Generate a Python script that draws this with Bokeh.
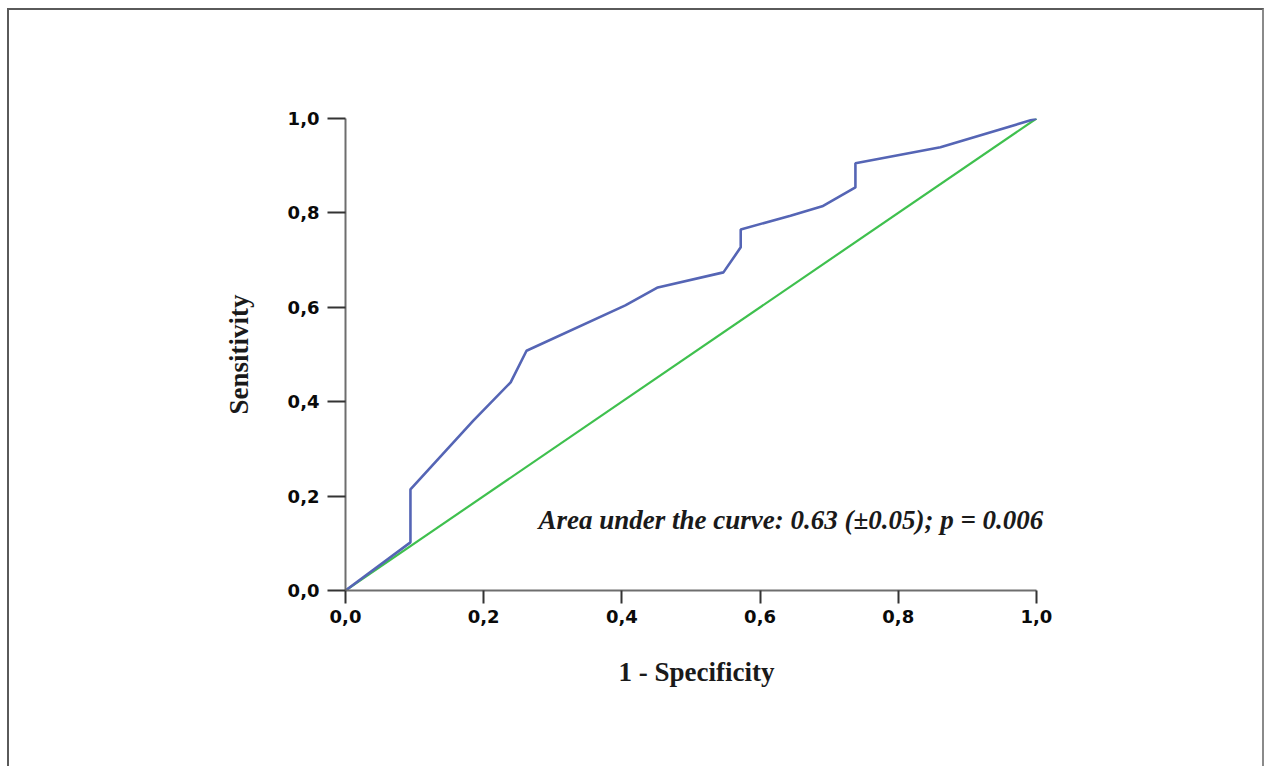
from bokeh.plotting import figure
from bokeh.models import FixedTicker, Label
from bokeh.embed import file_html
from bokeh.resources import INLINE

# ROC curve
fpr = [0.0, 0.094, 0.094, 0.185, 0.239, 0.262, 0.405, 0.452, 0.547, 0.572, 0.572,
       0.644, 0.690, 0.738, 0.738, 0.813, 0.861, 1.0]
tpr = [0.0, 0.102, 0.214, 0.360, 0.441, 0.508, 0.604, 0.642, 0.674, 0.727, 0.765,
       0.794, 0.814, 0.854, 0.905, 0.926, 0.939, 1.0]

# reference line
diag_x = [0.0, 1.0]
diag_y = [0.0, 1.0]

tick_values = [0.0, 0.2, 0.4, 0.6, 0.8, 1.0]
tick_labels = ["0,0", "0,2", "0,4", "0,6", "0,8", "1,0"]

x_label = "1 - Specificity"
y_label = "Sensitivity"
note = "Area under the curve: 0.63 (\u00b10.05); p = 0.006"

X_END = 1.016  # frame extends a little past 1.0 so the note is not clipped
W, H = 1257, 758

p = figure(width=W, height=H, output_backend="svg", toolbar_location=None,
           x_range=(0, X_END), y_range=(0, 1),
           min_border_left=336, min_border_right=W - 336 - round(691 * X_END),
           min_border_top=108, min_border_bottom=H - 108 - 472)
p.styles = {"margin-left": "7px", "margin-top": "8px",
            "border-top": "2px solid #5a5a5a", "border-left": "2px solid #5a5a5a",
            "border-right": "2px solid #8a8a8a"}
p.outline_line_color = None
p.xgrid.visible = False
p.ygrid.visible = False
p.background_fill_color = "white"
p.border_fill_color = "white"

p.line(diag_x, diag_y, line_color="#3fc04e", line_width=2.2)
p.line(fpr, tpr, line_color="#5565b5", line_width=2.6)

for ax in (p.xaxis[0], p.yaxis[0]):
    ax.ticker = FixedTicker(ticks=tick_values, minor_ticks=[])
    ax.bounds = (0, 1)
    ax.major_label_overrides = {v: s for v, s in zip(tick_values, tick_labels)}
    ax.major_label_text_font = "DejaVu Sans"
    ax.major_label_text_font_style = "bold"
    ax.major_label_text_font_size = "18px"
    ax.major_label_text_color = "#0a0a0a"
    ax.axis_line_color = "#6e6e6e"
    ax.axis_line_width = 2
    ax.major_tick_line_color = "#333333"
    ax.major_tick_line_width = 2
    ax.major_tick_in = 0
    ax.minor_tick_line_color = None
    ax.axis_label_text_font = "Liberation Serif"
    ax.axis_label_text_font_style = "bold"
    ax.axis_label_text_font_size = "27px"
    ax.axis_label_text_color = "#1a1a1a"

p.xaxis[0].major_tick_out = 13
p.xaxis[0].major_label_standoff = 6
p.xaxis[0].axis_label = x_label
p.xaxis[0].axis_label_standoff = 31

p.yaxis[0].major_tick_out = 18
p.yaxis[0].major_label_standoff = 8
p.yaxis[0].axis_label = y_label
p.yaxis[0].axis_label_standoff = 31

p.add_layout(Label(x=1.01, y=0.149, text=note, text_align="right",
                   text_baseline="alphabetic", text_font="Liberation Serif",
                   text_font_style="bold italic", text_font_size="27px",
                   text_color="#1a1a1a"))

open("out.html", "w").write(file_html(p, INLINE))
